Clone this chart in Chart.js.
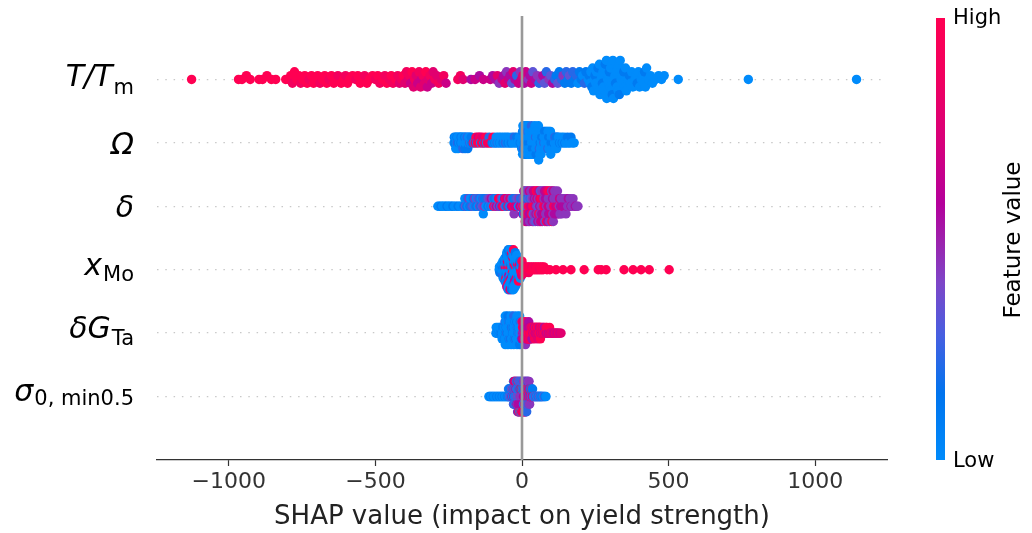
<!DOCTYPE html>
<html>
<head>
<meta charset="utf-8">
<script src="https://cdn.jsdelivr.net/npm/chart.js@4.4.1/dist/chart.umd.min.js"></script>
<style>
  body { margin: 0; background: #fff; }
</style>
</head>
<body>
<canvas id="chart" width="1032" height="533"></canvas>
<script>
// feature names, top row first ("_" starts the subscript)
const featureLabels = ["T/T_m", "Ω", "δ", "x_Mo", "δG_Ta", "σ_0, min0.5"];

const xTicks = [-1000, -500, 0, 500, 1000];
const colorbarLabels = ["Low", "High"];

// [SHAP value, feature value 0 (low) .. 9 (high)]
const tmPoints = [
  [-1127,9],[-967,9],[-955,9],[-940,9],[-927,9],[-897,9],[-885,9],[-870,9],[-855,9],[-840,9],
  [-806,9],[-796,9],[-789,9],[-783,8],[-776,9],[-768,9],[-761,9],[-755,8],[-748,9],[-741,9],
  [-733,9],[-726,8],[-718,9],[-711,9],[-703,9],[-697,9],[-689,8],[-680,9],[-673,9],[-666,9],
  [-658,8],[-650,9],[-642,9],[-636,9],[-628,8],[-617,9],[-609,9],[-602,8],[-595,9],
  [-588,9],[-578,9],[-567,8],[-560,9],[-552,9],[-545,9],[-537,8],[-529,9],[-520,9],[-510,9],
  [-500,8],[-492,9],[-485,8],
  [-475,9],[-468,8],[-461,9],[-452,8],[-446,9],[-440,8],[-430,9],[-424,8],[-418,7],[-410,8],
  [-405,9],[-399,7],[-394,8],[-388,7],[-384,8],[-380,6],[-375,9],[-370,7],[-366,8],[-361,7],
  [-356,6],[-351,8],[-346,7],[-343,6],[-338,8],[-333,7],[-328,9],[-323,6],[-319,7],[-314,8],
  [-308,6],[-303,7],[-297,8],[-291,7],[-284,8],[-275,7],[-267,8],[-259,6],
  [-219,8],[-210,8],[-201,7],[-174,5],[-160,6],[-145,5],[-132,6],
  [-108,6],[-100,5],[-90,5],[-84,7],[-78,4],[-68,6],[-63,5],[-58,7],[-53,4],[-46,6],
  [-41,5],[-35,3],[-30,7],[-24,5],[-18,2],[-12,6],[-6,4],
  [-2,6],[3,7],[8,5],[13,6],[22,4],[27,5],[32,6],[37,3],[46,5],[52,4],
  [58,2],[66,4],[71,5],[77,3],[83,2],[92,4],[98,3],[104,5],
  [112,2],[117,1],[122,3],[127,1],[135,2],[140,4],[146,1],[151,2],[157,1],[162,3],
  [168,1],[173,2],[180,1],[185,2],[191,0],[196,1],[202,1],[207,0],[213,2],[218,1],
  [226,0],[229,1],[232,0],[235,0],[238,1],[241,0],[244,0],
  [247,0],[249,1],[252,0],[254,0],[257,0],[259,1],[262,0],[264,0],[266,0],
  [270,0],[272,0],[274,1],[276,0],[278,0],[280,0],[282,0],[284,1],[286,0],[288,0],[289,0],
  [292,0],[294,0],[296,0],[298,1],[300,0],[302,0],[304,0],[306,0],[308,1],[310,0],[312,0],
  [315,0],[317,0],[319,1],[321,0],[324,0],[326,0],[328,0],[330,0],[332,1],[335,0],
  [338,0],[341,0],[344,0],[347,1],[350,0],[353,0],[356,0],
  [362,0],[366,1],[370,0],[374,0],[378,0],
  [385,0],[389,0],[393,1],[397,0],[401,0],
  [407,0],[411,0],[414,0],[418,1],[421,0],[425,0],
  [432,0],[438,0],[445,0],[455,0],[466,0],[476,0],[485,0],
  [533,0],[772,0],[1141,0]
];

const omPoints = [
  [-232,0],[-231,1],[-229,1],[-227,0],[-226,0],[-224,0],[-222,1],[-221,2],[-219,0],[-218,0],
  [-216,1],[-214,0],[-213,0],[-210,0],[-209,1],[-208,1],[-205,0],[-204,0],[-202,2],[-200,0],
  [-199,0],[-197,0],[-196,1],[-194,1],[-192,0],[-191,0],[-188,0],[-187,2],[-185,1],[-183,0],
  [-182,0],[-179,2],[-178,0],[-175,0],[-173,1],[-171,1],
  [-166,9],[-163,0],[-160,8],[-157,9],[-155,1],[-152,9],[-149,6],[-147,9],[-144,8],[-141,0],
  [-138,9],[-136,7],[-133,9],[-130,1],[-127,8],[-124,9],[-121,0],[-118,9],[-115,8],[-112,2],
  [-109,9],[-106,8],[-102,1],[-99,9],
  [-96,0],[-93,1],[-90,0],[-88,0],[-85,2],[-82,0],[-79,0],[-76,1],[-74,0],[-71,0],
  [-68,0],[-65,1],[-62,0],[-60,0],[-57,2],[-54,0],[-51,0],[-48,1],[-46,0],[-43,0],
  [-40,0],[-37,1],[-34,0],[-32,0],[-29,0],[-26,2],[-23,0],[-20,0],[-18,1],[-15,0],
  [-12,0],[-9,0],[-6,1],
  [-3,0],[-2,0],[-1,1],[0,0],[0,0],[1,0],[2,1],[2,0],[3,0],[4,0],
  [5,0],[5,2],[6,0],[7,0],[8,1],[8,0],[9,0],[10,0],[11,0],[11,1],
  [12,0],[13,0],[14,0],[14,0],[15,1],[16,0],[17,0],[17,0],[18,0],[19,2],
  [20,0],[20,0],[21,1],[22,0],[23,0],[23,0],[24,0],[25,1],[26,0],[26,0],
  [27,0],[28,0],[29,1],[29,0],[30,0],[31,0],[32,0],[32,2],[33,0],[34,0],
  [35,1],[35,0],[36,0],[37,0],[38,0],[38,1],[39,0],[40,0],[41,0],[41,0],
  [42,1],[43,0],[44,0],[44,0],[45,0],[46,2],[47,0],[47,0],[48,1],[49,0],
  [50,0],[50,0],[51,0],[52,1],[53,0],[53,0],[54,0],[55,0],[56,1],[56,0],
  [57,0],[58,0],[59,0],[59,2],[60,0],[61,0],[62,1],[62,0],[63,0],[64,0],[65,0],
  [66,0],[67,1],[68,0],[69,0],[70,0],[71,1],[72,0],[73,0],[74,2],[75,0],
  [76,0],[77,1],[78,0],[79,0],[80,0],[81,1],[82,0],[83,0],[84,0],[85,1],
  [86,0],[87,0],[88,2],[89,0],[90,0],[91,1],[92,0],[93,0],[94,0],[95,1],
  [96,0],[97,0],[98,0],[99,1],[100,0],
  [102,0],[103,1],[105,0],[106,0],[108,1],[109,0],[111,0],[112,2],[114,0],[115,0],
  [117,1],[118,0],[120,0],[121,1],[123,0],
  [125,0],[128,1],[131,0],[134,0],[137,1],[140,0],[143,0],[146,1],[149,0],[152,0],
  [155,1],[158,0],[161,0],[164,0],[167,1],[171,0],[175,0],[178,0]
];

const dePoints = [
  [-287,0],[-282,0],[-276,1],[-271,0],[-266,0],[-261,0],[-256,1],[-251,0],[-246,0],[-241,0],
  [-236,1],[-230,0],[-224,0],[-218,1],[-212,0],[-206,0],
  [-200,0],[-198,1],[-195,0],[-193,3],[-190,0],[-188,1],[-185,2],[-183,0],[-180,4],[-178,1],
  [-176,0],[-173,2],[-171,0],[-168,3],[-166,1],[-163,0],[-161,4],[-158,2],[-156,0],[-154,1],
  [-151,3],[-149,0],[-146,2],[-144,4],[-141,1],[-139,0],[-136,3],[-134,2],[-132,0],[-129,4],
  [-127,1],[-124,3],[-122,0],[-119,2],
  [-116,1],[-114,3],[-111,0],[-109,4],[-106,2],[-104,5],[-102,0],[-99,3],[-97,9],[-94,1],
  [-92,4],[-89,2],[-87,6],[-85,0],[-82,3],[-80,8],[-77,5],[-75,9],[-73,2],[-70,4],
  [-68,7],[-65,0],[-63,9],[-60,5],[-58,3],[-56,8],[-53,1],[-51,6],[-48,9],[-46,4],
  [-44,2],[-41,7],[-39,0],[-36,5],[-34,3],[-31,8],[-29,1],[-27,4],[-24,6],[-22,2],
  [-19,7],[-17,3],[-15,5],[-12,0],[-10,4],[-7,6],[-5,2],
  [0,4],[1,2],[2,5],[3,9],[4,3],[5,1],[6,6],[7,4],[8,3],[9,5],
  [10,4],[11,9],[12,2],[13,5],[14,6],[15,3],[16,5],[17,4],[18,1],[19,8],
  [20,4],[21,5],[22,9],[23,3],[24,5],[25,6],[26,4],[27,7],[28,2],[29,5],
  [30,4],[31,6],[32,3],[33,9],[34,4],[35,5],[36,8],[37,4],[38,3],[39,6],
  [40,4],[41,9],[42,5],[43,4],[44,6],[45,3],[46,7],[47,4],[48,5],[49,9],
  [50,4],[51,6],[52,4],[53,8],[54,5],[55,3],[56,4],[57,9],[58,6],[59,4],
  [60,5],[61,7],[62,4],[63,3],[64,6],[65,4],[66,9],[67,5],[68,4],[69,6],
  [70,4],[71,8],[72,5],[73,4],[74,9],[75,4],[76,6],[77,5],[78,3],[79,7],
  [80,5],[81,4],[82,6],[83,9],[84,4],[85,5],[86,4],[87,7],[88,5],[89,6],
  [90,4],[91,5],[92,9],[93,4],[94,6],[95,4],[96,5],[97,8],[98,4],[99,4],
  [100,6],[101,4],[102,9],[103,4],[104,5],[105,4],[106,6],[107,4],[108,8],[109,4],
  [111,5],[112,4],[114,7],[115,4],[117,6],[118,4],[119,5],
  [121,4],[122,7],[124,4],[125,5],[127,4],[128,6],[130,4],
  [132,5],[134,4],[136,4],[138,6],[140,4],[142,5],[144,4],[146,5],[148,4],[150,4],
  [152,5],[154,4],[156,4],[158,5],[161,4],[164,4],[167,5],[170,4],[174,4],[178,4],
  [182,5],[186,4],[191,4]
];

const xmPoints = [
  [-78,0],[-77,0],[-76,1],
  [-75,0],[-73,0],[-72,1],[-70,0],
  [-69,0],[-68,1],[-67,0],[-67,0],[-66,2],[-65,0],[-64,0],
  [-63,0],[-62,1],[-62,0],[-61,0],[-60,0],[-60,1],[-59,0],[-59,0],[-58,2],
  [-57,0],[-57,8],[-56,0],[-56,0],[-55,1],[-55,0],[-55,9],[-54,0],[-54,0],[-53,1],[-53,0],[-52,0],[-52,6],
  [-51,0],[-51,9],[-51,0],[-50,1],[-50,0],[-50,7],[-49,0],[-49,0],[-49,1],[-48,0],[-48,9],[-48,0],[-47,0],[-47,1],[-47,0],
  [-46,0],[-46,8],[-45,0],[-45,0],[-45,5],[-44,0],[-44,1],[-43,0],[-43,9],[-43,0],[-42,0],[-42,1],[-41,0],[-41,0],[-41,7],
  [-40,0],[-40,9],[-39,0],[-39,1],[-39,0],[-38,0],[-38,6],[-37,0],[-37,0],[-37,1],[-36,0],[-36,8],[-35,0],[-35,0],[-35,1],
  [-34,0],[-34,0],[-33,9],[-33,0],[-33,1],[-32,0],[-32,0],[-31,7],[-31,0],[-31,0],[-30,1],[-30,0],[-29,0],[-29,9],[-29,0],
  [-28,0],[-28,1],[-27,0],[-27,8],[-26,0],[-26,0],[-26,1],[-25,0],[-25,5],[-24,0],[-24,0],[-23,1],[-23,0],
  [-22,0],[-22,9],[-21,0],[-21,1],[-21,0],[-20,0],[-20,7],[-19,0],[-19,1],[-18,0],[-18,0],
  [-17,0],[-16,1],[-16,0],[-15,8],[-14,0],[-14,0],[-13,1],[-12,0],[-12,9],
  [-11,0],[-10,1],[-9,0],[-9,7],[-8,0],[-7,1],[-6,0],
  [-5,8],[-4,0],[-3,9],[-2,1],[-1,7],[0,9],
  [2,9],[4,8],[5,9],[8,9],[10,7],[11,9],[14,9],[16,8],[19,9],[21,9],
  [23,8],[25,9],[27,9],[31,9],[33,8],[36,9],[39,9],[42,9],[45,8],[48,9],
  [51,9],[54,9],[57,9],[60,8],[63,9],[66,9],[69,9],[72,9],[75,9],[85,9],[95,9],
  [116,9],[140,9],[167,9],[212,9],[260,9],[270,9],[287,9],[348,9],[379,9],[406,9],[434,9],[502,9]
];

const dgPoints = [
  [-89,0],[-88,0],[-86,1],[-85,0],[-83,0],[-82,0],[-80,1],[-79,0],[-77,0],[-76,0],[-74,1],[-73,0],
  [-72,0],[-71,0],[-70,1],[-69,0],[-68,0],[-67,0],[-66,1],[-65,0],[-64,0],[-63,0],[-62,1],[-61,0],
  [-60,0],[-60,1],[-59,0],[-59,0],[-58,0],[-58,2],[-57,0],[-57,0],[-56,1],[-56,0],
  [-55,0],[-55,0],[-54,0],[-54,1],[-53,0],[-53,0],[-52,2],[-52,0],[-51,0],[-51,0],
  [-50,1],[-50,0],[-49,0],[-49,0],[-48,0],[-48,1],[-47,0],[-47,0],[-46,0],[-46,2],
  [-45,0],[-45,0],[-44,1],[-44,0],[-43,0],[-43,0],[-42,0],[-42,1],[-41,0],[-41,0],
  [-40,2],[-40,0],[-39,0],[-39,0],[-38,1],[-38,0],[-37,0],[-37,0],[-36,0],[-36,1],
  [-35,0],[-35,0],[-34,0],[-34,2],[-33,0],[-33,0],[-32,1],[-32,0],[-31,0],[-31,0],
  [-30,0],[-30,1],[-29,0],[-29,0],[-28,0],[-28,2],[-27,0],[-27,0],[-26,1],[-26,0],
  [-25,0],[-25,0],[-24,0],[-24,1],[-23,0],[-23,0],[-22,2],[-22,0],[-21,0],[-21,0],
  [-20,1],[-20,0],[-19,0],[-19,0],[-18,0],[-18,1],[-17,0],[-17,0],[-16,0],[-16,2],
  [-15,0],[-15,0],[-14,1],[-14,0],[-13,0],[-13,0],[-12,0],[-12,1],[-11,0],[-11,0],
  [-10,2],[-10,0],[-9,0],[-9,0],[-8,1],[-8,0],[-7,0],[-7,0],[-6,0],[-6,1],
  [-5,0],[-5,0],[-4,0],[-4,2],[-3,0],[-3,0],[-2,1],[-2,0],[-1,0],[-1,0],
  [0,5],[0,8],[1,4],[2,9],[2,5],[3,7],[4,5],[4,9],[5,6],[6,4],
  [6,7],[7,9],[8,5],[8,6],[9,4],[10,9],[10,5],[11,7],[12,8],[12,4],
  [13,9],[14,6],[14,5],[15,7],[16,9],[16,5],[17,8],[18,6],[18,9],[19,5],
  [20,5],[20,8],[21,9],[22,6],[22,7],[23,5],[24,9],[24,5],[25,7],[26,8],
  [26,6],[27,9],[28,7],[28,5],[29,8],[30,9],
  [31,8],[32,9],[33,7],[34,5],[35,9],[36,7],[37,6],[38,9],[39,7],[40,8],
  [41,9],[42,5],[43,8],[44,7],[45,9],[46,6],[47,8],[48,7],[49,9],[50,6],
  [51,5],[52,8],[53,9],[54,7],[55,6],[56,9],[57,7],[58,8],[59,9],[60,5],
  [61,8],[62,7],[63,9],[64,6],[65,8],[66,7],[68,9],[69,7],[70,6],[72,8],
  [73,9],[75,7],[76,5],[78,8],[79,9],[81,7],[82,8],[84,6],[85,9],[87,7],
  [88,8],[90,5],[92,7],[94,9],[96,7],[98,6],[100,8],
  [101,7],[104,8],[106,6],[109,7],[111,6],[114,8],[117,6],[119,7],[122,6],[125,8],[129,6],[133,7]
];

const sgPoints = [
  [-113,0],[-110,0],[-107,1],[-104,0],[-101,0],[-98,1],[-95,0],[-92,0],[-89,0],[-86,1],
  [-83,0],[-80,0],[-77,1],[-74,0],[-71,0],[-68,1],[-65,0],[-62,0],[-59,1],[-56,0],[-53,0],[-50,1],
  [-48,1],[-47,0],[-46,2],[-45,1],[-44,0],[-43,3],[-42,1],[-41,0],[-40,2],[-39,4],
  [-38,1],[-37,0],[-36,3],[-35,2],[-34,5],[-33,1],[-32,0],[-31,4],
  [-30,1],[-30,4],[-29,2],[-29,0],[-28,5],[-28,1],[-27,3],[-27,9],[-26,0],[-26,4],
  [-25,2],[-25,6],[-24,1],[-24,4],[-23,0],[-23,5],[-22,3],[-22,1],[-21,4],[-21,9],
  [-20,2],[-20,5],[-19,1],[-19,4],[-18,0],[-18,3],[-17,5],[-17,1],[-16,4],[-16,2],
  [-15,4],[-15,1],[-15,5],[-14,3],[-14,0],[-13,5],[-13,9],[-13,2],[-12,4],[-12,1],
  [-11,5],[-11,3],[-11,7],[-10,0],[-10,4],[-9,5],[-9,2],[-9,9],[-8,4],[-8,1],
  [-7,5],[-7,3],[-7,0],[-6,4],[-6,7],[-5,5],[-5,2],[-5,9],[-4,4],[-4,1],
  [-3,5],[-3,3],[-3,0],[-2,4],[-2,9],[-1,5],[-1,2],[-1,7],[0,4],[0,1],
  [1,5],[1,3],[1,9],[2,4],[2,0],[3,5],[3,2],[3,7],[4,4],[4,9],
  [5,5],[5,1],[5,3],[6,4],[6,9],[7,5],[7,2],[7,0],[8,4],[8,7],
  [9,5],[9,1],[9,9],[10,4],[10,3],[11,5],[11,9],[11,2],[12,4],[12,7],
  [13,5],[13,1],[13,9],[14,4],[14,3],[15,5],[15,9],[15,1],
  [16,4],[16,2],[17,5],[17,9],[18,3],[18,1],[19,4],[19,7],[20,2],[20,5],
  [21,9],[21,1],[22,4],[22,3],[23,5],[23,9],[24,2],[24,4],[25,1],[25,6],
  [26,4],[27,9],[28,2],[29,5],[30,1],[31,4],[32,9],[33,3],[34,2],[35,5],[36,1],[37,9],
  [39,1],[41,3],[43,0],[45,2],[47,4],[49,1],[51,0],[53,3],[55,1],[57,2],
  [59,0],[61,4],[63,1],[65,0],[67,2],[69,1],[72,0],[75,3],[78,1],[82,0]
];

const rowData = [tmPoints, omPoints, dePoints, xmPoints, dgPoints, sgPoints];

// shap's red-blue colour map, low -> high
const cmapStops = [
  [0.00, [0, 139, 251]],
  [0.15, [0, 116, 238]],
  [0.28, [70, 95, 225]],
  [0.40, [125, 70, 200]],
  [0.50, [158, 32, 172]],
  [0.58, [180, 0, 155]],
  [0.72, [215, 0, 122]],
  [0.86, [240, 0, 96]],
  [1.00, [255, 0, 82]]
];

function cmap(t) {
  for (let i = 1; i < cmapStops.length; i++) {
    const [t1, c1] = cmapStops[i];
    const [t0, c0] = cmapStops[i - 1];
    if (t <= t1) {
      const f = (t - t0) / (t1 - t0);
      const c = c0.map((v, k) => Math.round(v + (c1[k] - v) * f));
      return "rgb(" + c.join(",") + ")";
    }
  }
  return "rgb(255,0,82)";
}

// same binning as shap's beeswarm: 100 bins, alternate up/down inside a bin
function swarmOffsets(vals) {
  const lo = Math.min(...vals), hi = Math.max(...vals);
  const quant = vals.map(v => Math.round(100 * (v - lo) / (hi - lo + 1e-8)));
  const inds = vals.map((v, i) => i).sort((a, b) => quant[a] - quant[b] || a - b);
  const ys = new Array(vals.length).fill(0);
  let layer = 0, last = -1;
  for (const i of inds) {
    if (quant[i] !== last) layer = 0;
    ys[i] = Math.ceil(layer / 2) * ((layer % 2) * 2 - 1);
    layer++;
    last = quant[i];
  }
  const m = Math.max(...ys.map(y => y + 1));
  return ys.map(y => y * 0.9 * 0.4 / m);
}

const datasets = rowData.map((pts, i) => {
  const row = rowData.length - 1 - i;
  const offs = swarmOffsets(pts.map(p => p[0]));
  return {
    data: pts.map((p, k) => ({ x: p[0], y: row + offs[k] })),
    pointBackgroundColor: pts.map(p => cmap(p[1] / 9)),
    pointRadius: 4.7,
    pointBorderWidth: 0,
    showLine: false,
    order: 0
  };
});

// zero line
datasets.push({
  type: "line",
  data: [{ x: 0, y: -1 }, { x: 0, y: 6 }],
  borderColor: "#999999",
  borderWidth: 2.6,
  pointRadius: 0,
  order: -1
});

// feature names with subscripts
const labelPlugin = {
  id: "featLabels",
  afterDraw(chart) {
    const ctx = chart.ctx;
    const yScale = chart.scales.y;
    const right = 134;
    const baseOff = [7, 11, 11, 5, 5, 4];
    const subOff = [8, 0, 0, 6, 7, 4];
    ctx.save();
    ctx.fillStyle = "#000";
    ctx.textBaseline = "alphabetic";
    featureLabels.forEach((lab, i) => {
      const parts = lab.split("_");
      const main = parts[0], sub = parts[1] || "";
      const py = yScale.getPixelForValue(featureLabels.length - 1 - i) + baseOff[i];
      ctx.font = "21px 'DejaVu Sans'";
      const sw = sub ? ctx.measureText(sub).width + 1 : 0;
      if (sub) {
        ctx.textAlign = "left";
        ctx.fillText(sub, right - sw + 1, py + subOff[i]);
      }
      ctx.font = "italic 30px 'DejaVu Sans'";
      ctx.textAlign = "right";
      ctx.fillText(main, right - sw, py);
    });
    ctx.restore();
  }
};

// colour bar
const colorbarPlugin = {
  id: "colorbar",
  afterDraw(chart) {
    const ctx = chart.ctx;
    const x = 936, w = 9, top = 18, bottom = 460;
    const g = ctx.createLinearGradient(0, bottom, 0, top);
    cmapStops.forEach(s => g.addColorStop(s[0], "rgb(" + s[1].join(",") + ")"));
    ctx.save();
    ctx.fillStyle = g;
    ctx.fillRect(x, top, w, bottom - top);
    ctx.fillStyle = "#000";
    ctx.font = "21px 'DejaVu Sans'";
    ctx.textAlign = "left";
    ctx.textBaseline = "middle";
    ctx.fillText(colorbarLabels[1], 953, top + 1);
    ctx.fillText(colorbarLabels[0], 953, bottom + 2);
    ctx.translate(1014, 240);
    ctx.rotate(-Math.PI / 2);
    ctx.textAlign = "center";
    ctx.font = "23px 'DejaVu Sans'";
    ctx.fillText("Feature value", 0, 0);
    ctx.restore();
  }
};

new Chart(document.getElementById("chart"), {
  type: "scatter",
  data: { datasets: datasets },
  options: {
    responsive: false,
    animation: false,
    events: [],
    devicePixelRatio: 1,
    layout: { padding: { left: 0, right: 145, top: 16, bottom: 0 } },
    plugins: { legend: { display: false }, tooltip: { enabled: false } },
    scales: {
      x: {
        min: -1245,
        max: 1245,
        afterBuildTicks: s => { s.ticks = xTicks.map(v => ({ value: v })); },
        afterFit: s => { s.height = 73; },
        ticks: {
          color: "#333333",
          font: { family: "DejaVu Sans", size: 22 },
          padding: 3,
          maxRotation: 0,
          callback: v => (v < 0 ? "\u2212" + Math.abs(v) : "" + v)
        },
        grid: { drawOnChartArea: false, drawTicks: true, tickLength: 6, tickColor: "#333333", tickWidth: 1.2 },
        border: { display: true, color: "#333333", width: 1.2 },
        title: {
          display: true,
          text: "SHAP value (impact on yield strength)",
          color: "#222222",
          font: { family: "DejaVu Sans", size: 26 },
          padding: { top: 0, bottom: 0 }
        }
      },
      y: {
        min: -1,
        max: 6,
        afterBuildTicks: s => { s.ticks = [0, 1, 2, 3, 4, 5].map(v => ({ value: v })); },
        afterFit: s => { s.width = 157; },
        ticks: { display: false },
        grid: { color: "#c8c8c8", lineWidth: 1.3, drawTicks: false },
        border: { display: false, dash: [1.5, 6.8] }
      }
    }
  },
  plugins: [labelPlugin, colorbarPlugin]
});
</script>
</body>
</html>
